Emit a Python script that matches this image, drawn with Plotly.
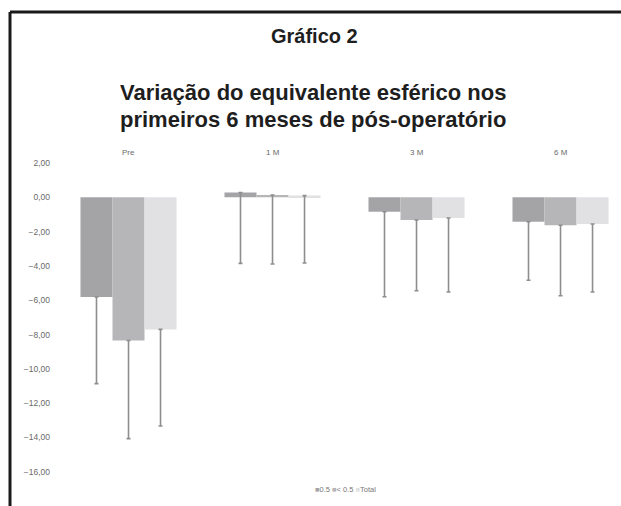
import plotly.graph_objects as go

categories = ["Pre", "1 M", "3 M", "6 M"]
series_names = ["0.5", "< 0.5", "Total"]
mean_a = [-5.81, 0.28, -0.84, -1.42]
err_a = [5.05, 4.13, 4.96, 3.42]
mean_b = [-8.35, 0.13, -1.32, -1.63]
err_b = [5.72, 4.02, 4.13, 4.11]
mean_c = [-7.70, 0.10, -1.21, -1.56]
err_c = [5.63, 3.93, 4.31, 3.96]
colors = ["#a4a4a7", "#b6b6b9", "#e1e1e3"]
y_ticks = [2, 0, -2, -4, -6, -8, -10, -12, -14, -16]

W, H = 621, 506
ML, MR, MT, MB = 56, 0, 146, 26
PW, PH = W - ML - MR, H - MT - MB

def px(x):
    return (x - ML) / PW

def py(y):
    return (H - MB - y) / PH

fig = go.Figure()
for name, m, e, c in zip(series_names, [mean_a, mean_b, mean_c], [err_a, err_b, err_c], colors):
    fig.add_trace(go.Bar(
        x=categories, y=m, name=name, marker=dict(color=c, line=dict(width=0)),
        error_y=dict(type="data", symmetric=False, array=[0] * len(m), arrayminus=e,
                     color="#8e8e8e", thickness=1.6, width=2),
        showlegend=False,
    ))

# category labels above bars
for cat in categories:
    fig.add_annotation(x=cat, y=2.64, xref="x", yref="y", text=cat, showarrow=False,
                       font=dict(family="Liberation Sans, Arial", size=8, color="#6a6a6a"))

# titles
fig.add_annotation(x=px(314), y=py(36), xref="paper", yref="paper", text="<b>Gráfico 2</b>",
                   showarrow=False, xanchor="center", yanchor="middle",
                   font=dict(family="Liberation Sans, Arial", size=20, color="#1e1e1e"))
fig.add_annotation(x=px(313), y=py(93), xref="paper", yref="paper",
                   text="<b>Variação do equivalente esférico nos</b>",
                   showarrow=False, xanchor="center", yanchor="middle",
                   font=dict(family="Liberation Sans, Arial", size=22, color="#1e1e1e"))
fig.add_annotation(x=px(313), y=py(120), xref="paper", yref="paper",
                   text="<b>primeiros 6 meses de pós-operatório</b>",
                   showarrow=False, xanchor="center", yanchor="middle",
                   font=dict(family="Liberation Sans, Arial", size=22, color="#1e1e1e"))

# legend
leg = " ".join(f"<span style='color:{c}'>■</span>{n}" for n, c in zip(series_names, colors))
fig.add_annotation(x=px(345), y=py(490), xref="paper", yref="paper", text=leg,
                   showarrow=False, xanchor="center", yanchor="middle",
                   font=dict(family="Liberation Sans, Arial", size=7.5, color="#777777"))

# frame
fig.add_shape(type="line", xref="paper", yref="paper", x0=px(10), x1=px(621), y0=py(12), y1=py(12),
              line=dict(color="#1a1a1a", width=3))
fig.add_shape(type="line", xref="paper", yref="paper", x0=px(10), x1=px(10), y0=py(12), y1=py(506),
              line=dict(color="#1a1a1a", width=3))

fig.update_layout(
    width=W, height=H, margin=dict(l=ML, r=MR, t=MT, b=MB),
    paper_bgcolor="white", plot_bgcolor="white",
    barmode="group", bargap=0.333, bargroupgap=0,
    separators=",.",
    font=dict(family="Liberation Sans, Arial", size=8, color="#6a6a6a"),
    xaxis=dict(range=[-0.5035, 3.42], showticklabels=False, showgrid=False, zeroline=False,
               showline=False, ticks=""),
    yaxis=dict(range=[-16.48, 2.99], tickvals=y_ticks, tickformat=".2f", showgrid=False,
               zeroline=False, showline=False, ticks="", ticklabelstandoff=5,
               tickfont=dict(size=8.5, color="#6a6a6a")),
)

fig.write_html("out.html")
